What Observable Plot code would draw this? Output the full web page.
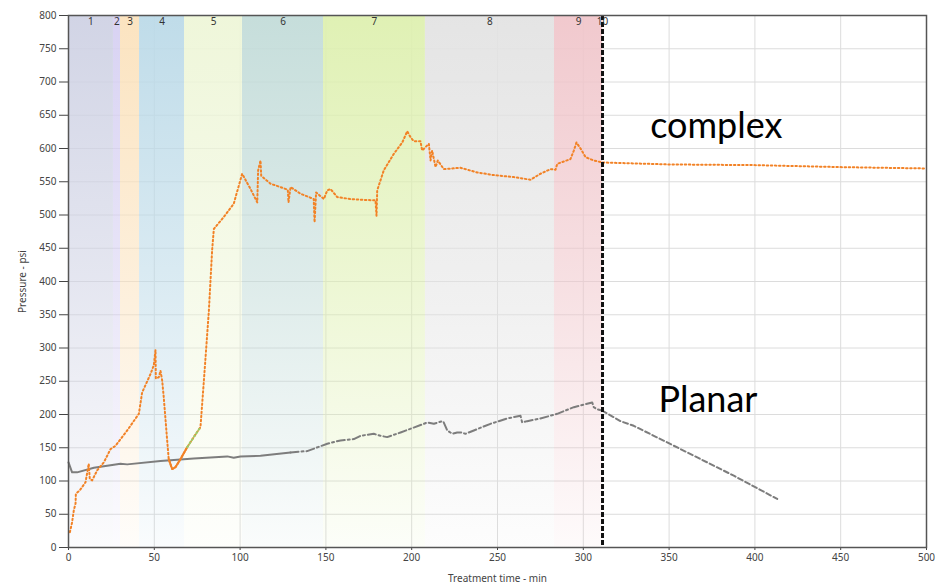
<!DOCTYPE html>
<html>
<head>
<meta charset="utf-8">
<script src="https://cdn.jsdelivr.net/npm/d3@7"></script>
<script src="https://cdn.jsdelivr.net/npm/@observablehq/plot@0.6"></script>
<style>
  html, body { margin: 0; padding: 0; background: #fff; }
  #chart { width: 937px; height: 585px; }
</style>
</head>
<body>
<div id="chart"></div>
<script>
// ---- data ----
const stageNames = ["1", "2", "3", "4", "5", "6", "7", "8", "9", "10"];
const stageStart = [0, 26.2, 30.3, 41.4, 67.6, 101.4, 148.6, 208, 283.2, 311.2];
const stageEnd   = [26.2, 30.3, 41.4, 67.6, 101.4, 148.6, 208, 283.2, 311.2, 311.2];
const stageColors = ["#cfd2e4", "#d6d0f2", "#fbe2bd", "#bcdae8", "#eef6d8", "#c3dcd9", "#def0b0", "#e3e3e3", "#f0c6cb", "#ffffff"];

const complexTime = [0.8, 2.1, 3.1, 4.1, 4.3, 6.6, 9.9, 11.8, 12.4, 13.8, 16.7, 20.6, 24.5, 27.4, 34.2, 41, 42.9, 47.8, 49.7, 50.7, 50.9, 52.6, 53.6, 54.6, 55.5, 57.5, 58.4, 60.4, 62.4, 65.3, 69.2, 73, 76.9, 78.9, 81.8, 83.7, 84.7, 90.5, 96.3, 101.2, 106.1, 110, 110.5, 111.9, 112.3, 117.7, 123.5, 127.8, 128.2, 129.4, 135.2, 142.9, 143.4, 144.3, 148.8, 150.8, 152.7, 156.6, 164.3, 170.2, 178.9, 179.5, 179.9, 183.7, 189.6, 194.5, 197.4, 199.3, 201.2, 205.1, 206.1, 208, 210, 211, 211.9, 213.9, 215.2, 218.7, 228.4, 238.2, 247.8, 259.5, 269.2, 275, 280.9, 283.8, 284.8, 292.5, 294.5, 296, 298.4, 301.3, 306.1, 311, 350, 400, 450, 500];
const complexPsi  = [23, 38, 56, 66, 81, 86, 98, 126, 103, 101, 116, 128, 148, 153, 176, 201, 233, 261, 274, 297, 254, 256, 266, 251, 226, 161, 133, 118, 121, 133, 151, 166, 181, 251, 356, 447, 479, 497, 517, 562, 539, 519, 567, 582, 559, 547, 542, 538, 519, 542, 532, 524, 489, 534, 524, 537, 539, 527, 524, 523, 522, 499, 537, 567, 592, 609, 626, 617, 611, 611, 597, 602, 607, 582, 597, 572, 582, 569, 571, 564, 560, 557, 553, 562, 569, 568, 577, 584, 597, 609, 600, 587, 582, 579, 576, 575, 572, 570];

const planarTime = [0, 2.1, 5, 14.8, 30.3, 34.2, 53.6, 73, 92.5, 96.3, 100.2, 111.9, 129.4, 139.1, 150.8, 158.5, 166.3, 170.2, 177.9, 181.8, 185.7, 193.5, 207.1, 209, 212.9, 217.8, 218.5, 220.7, 223.6, 226.5, 229, 231.3, 236.2, 245.9, 255.6, 263.4, 264.4, 267.3, 275, 284.8, 294.5, 305.2, 306.1, 308, 311, 321.7, 329.4, 348.9, 368.3, 387.7, 413];
const planarPsi  = [128, 113, 113, 120, 126, 125, 130, 134, 137, 135, 137, 138, 143, 145, 156, 161, 163, 168, 171, 168, 166, 173, 186, 188, 186, 190, 189, 176, 171, 173, 173, 171, 176, 186, 194, 198, 188, 190, 194, 201, 211, 218, 211, 208, 206, 190, 183, 158, 133, 108, 73];

const shutInTime = [311.2];
const xTicks = [0, 50, 100, 150, 200, 250, 300, 350, 400, 450, 500];
const yTicks = [0, 50, 100, 150, 200, 250, 300, 350, 400, 450, 500, 550, 600, 650, 700, 750, 800];
const annotations = [
  {label: "complex", t: 339, p: 633},
  {label: "Planar", t: 343.8, p: 221}
];

// ---- tables ----
const stages = stageNames.map((name, i) => ({name, i, x1: stageStart[i], x2: stageEnd[i], mid: (stageStart[i] + stageEnd[i]) / 2}));
const complex = complexTime.map((t, i) => ({t, p: complexPsi[i]}));
const planar = planarTime.map((t, i) => ({t, p: planarPsi[i]}));

const orange = "#f28226";
const grey = "#7d7d7d";
const dotted = "1.5,2.6";

const bandMarks = stages.slice(0, 9).map(s =>
  Plot.rect([s], {x1: "x1", x2: "x2", y1: 0, y2: 800, fill: `url(#stageGrad${s.i})`})
);

const chart = Plot.plot({
  width: 937,
  height: 585,
  marginLeft: 68,
  marginRight: 11,
  marginTop: 15,
  marginBottom: 38,
  style: {fontFamily: "'Noto Sans', sans-serif", fontSize: "10px", color: "#444", background: "#fff"},
  x: {domain: [0, 500], ticks: xTicks, tickSize: 3, tickPadding: 3, label: "Treatment time - min", labelAnchor: "center", labelOffset: 34, labelArrow: "none"},
  y: {domain: [0, 800], ticks: yTicks, tickSize: 9, tickPadding: 3, label: "Pressure - psi", labelAnchor: "center", labelOffset: 50, labelArrow: "none"},
  marks: [
    Plot.ruleX(xTicks, {stroke: "#dcdcdc", strokeWidth: 1}),
    Plot.ruleY(yTicks, {stroke: "#dcdcdc", strokeWidth: 1}),
    ...bandMarks,
    // planar: solid, dash-dot, dashed segments
    Plot.line(planar.filter(d => d.t <= 129.4), {x: "t", y: "p", stroke: grey, strokeWidth: 2}),
    Plot.line(planar.filter(d => d.t >= 129.4 && d.t <= 311), {x: "t", y: "p", stroke: grey, strokeWidth: 2, strokeDasharray: "8,3,2,3"}),
    Plot.line(planar.filter(d => d.t >= 311), {x: "t", y: "p", stroke: grey, strokeWidth: 2, strokeDasharray: "5,3"}),
    // complex: dotted, with a solid stretch and a green dotted stretch
    Plot.line(complex, {x: "t", y: "p", stroke: orange, strokeWidth: 2, strokeDasharray: dotted}),
    Plot.line(complex.filter(d => d.t >= 58.4 && d.t <= 69.2), {x: "t", y: "p", stroke: orange, strokeWidth: 2}),
    Plot.line(complex.filter(d => d.t >= 69.2 && d.t <= 76.9), {x: "t", y: "p", stroke: "#9ccc6a", strokeWidth: 2, strokeDasharray: dotted}),
    Plot.ruleX(shutInTime, {stroke: "#111", strokeWidth: 3, strokeDasharray: "5,2"}),
    Plot.text(stages, {x: "mid", y: 800, text: "name", dy: 6, fill: "#333", fontSize: 10}),
    Plot.text(annotations, {x: "t", y: "p", text: "label", textAnchor: "start", lineAnchor: "middle", fontSize: 36, fontFamily: "Lato, sans-serif", fill: "#000"}),
    Plot.frame({stroke: "#555", strokeWidth: 1.5})
  ]
});

// gradients for the stage bands (fade to white towards the bottom)
const ns = "http://www.w3.org/2000/svg";
const defs = document.createElementNS(ns, "defs");
stages.forEach(s => {
  const g = document.createElementNS(ns, "linearGradient");
  g.setAttribute("id", `stageGrad${s.i}`);
  g.setAttribute("x1", "0"); g.setAttribute("y1", "0");
  g.setAttribute("x2", "0"); g.setAttribute("y2", "1");
  [[0, 0.95], [0.5, 0.55], [1, 0.08]].forEach(([o, op]) => {
    const st = document.createElementNS(ns, "stop");
    st.setAttribute("offset", o);
    st.setAttribute("stop-color", stageColors[s.i]);
    st.setAttribute("stop-opacity", op);
    g.appendChild(st);
  });
  defs.appendChild(g);
});
const svg = chart.tagName.toLowerCase() === "svg" ? chart : chart.querySelector("svg");
svg.insertBefore(defs, svg.firstChild);

document.getElementById("chart").appendChild(chart);
</script>
</body>
</html>
